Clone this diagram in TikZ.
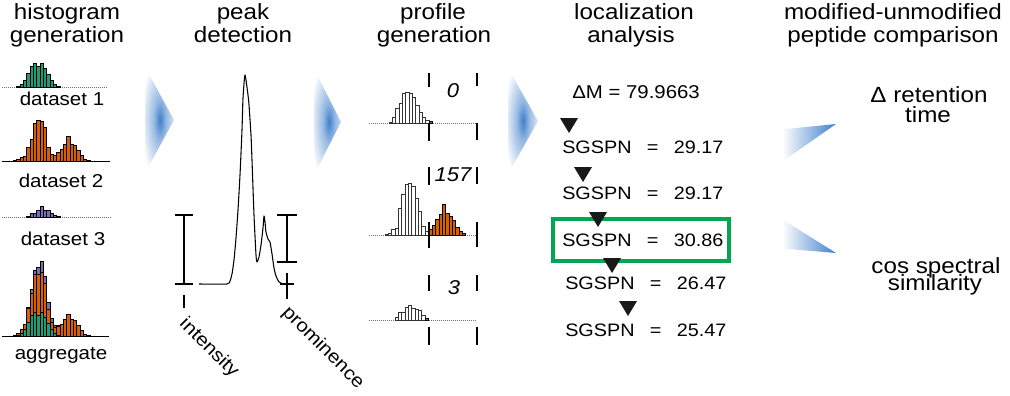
\documentclass[tikz,border=0pt]{standalone}
\usepackage{fontspec}
\setmainfont[FakeStretch=1.1]{Liberation Sans}
\definecolor{dgreen}{HTML}{1B9E77}
\definecolor{dorange}{HTML}{D95F02}
\definecolor{dpurple}{HTML}{7570B3}
\definecolor{boxgreen}{HTML}{00A650}
\definecolor{arrowblue}{HTML}{3F7FCB}
\colorlet{arrowmid}{arrowblue!55!white}
\pgfdeclareradialshading{chevshade}{\pgfpoint{0bp}{0bp}}{color(0bp)=(arrowblue); color(8bp)=(arrowmid); color(25bp)=(white); color(50bp)=(white)}
\pgfdeclarehorizontalshading{wedgeshade}{100bp}{color(0bp)=(white); color(30bp)=(white); color(75bp)=(arrowblue); color(100bp)=(arrowblue)}
\newcommand\histbars[5]{%
  \foreach \hh [count=\ii from 0] in {#5}{%
    \ifdim \hh pt>0pt
      \filldraw[bar,fill=#4] ({#1+\ii*#3},#2) rectangle ({#1+(\ii+1)*#3},{#2-\hh});
    \fi}}
\newcommand\chevron[3]{%
  \begin{scope}
    \clip (#1-3,#3-53) -- (#2,#3) -- (#1-3,#3+53) -- cycle;
    \shade[shading=chevshade] (#1+12,#3) ellipse [x radius=19, y radius=64];
  \end{scope}}
\newcommand\downtri[2]{\fill[black!90] (#1-9,#2) -- (#1+9,#2) -- (#1,#2+15) -- cycle;}
\newcommand\eqgap{\hspace{11.5pt}}
\begin{document}
\begin{tikzpicture}[x=0.75pt,y=-0.75pt,
  title/.style={font=\fontsize{16.5}{17}\selectfont, inner sep=0, anchor=base},
  lab/.style={font=\fontsize{14}{15}\selectfont, inner sep=0, anchor=base},
  rowtxt/.style={font=\fontsize{13.5}{14}\selectfont, inner sep=0, anchor=west},
  num/.style={font=\fontsize{15}{16}\selectfont\itshape, inner sep=0},
  big/.style={font=\fontsize{16.5}{17}\selectfont, inner sep=0, anchor=base},
  bar/.style={draw=black, line width=0.35pt},
  pbar/.style={draw=black!80, fill=white, line width=0.4pt},
  base/.style={draw=black!55, line width=0.5pt, densely dotted},
  sbase/.style={draw=black, line width=0.6pt},
  curve/.style={draw=black, line width=0.8pt, line join=round},
  errbar/.style={draw=black, line width=1pt},
  marker/.style={draw=black, line width=0.8pt},
  greenbox/.style={draw=boxgreen, line width=2.5pt}]
\useasboundingbox (0,0) rectangle (1010,396);
\fill[white] (0,0) rectangle (1010,396);

% titles
\node[title] (t1a) at (67,19) {histogram};
\node[title] (t1b) at (67,42) {generation};
\node[title] (t2a) at (243,19) {peak};
\node[title] (t2b) at (243,42) {detection};
\node[title] (t3a) at (433,19) {profile};
\node[title] (t3b) at (434,42) {generation};
\node[title] (t4a) at (634,19) {localization};
\node[title] (t4b) at (631,42) {analysis};
\node[title] (t5a) at (893,19) {modified-unmodified};
\node[title] (t5b) at (893,42) {peptide comparison};

% histograms
\draw[base] (2,87) -- (108,87);
\histbars{13.3}{87}{3.33}{dgreen}{0,1,3,7,14,21,24,21,24,19,13,7,3,1}
\node[lab] (d1) at (62,105) {dataset 1};
\draw[sbase] (2,161) -- (110,161);
\histbars{13.3}{161}{3.33}{dorange}{1,2,4,5,14,22,38,41,40,34,14,7,6,9,12,17,25,17,16,11,6,2,1}
\node[lab] (d2) at (61,187) {dataset 2};
\draw[base] (2,217) -- (112,217);
\histbars{13.3}{217}{3.33}{dpurple}{0,0,0,0,1,4,4,7,11,7,7,4,2,1}
\node[lab] (d3) at (63,245) {dataset 3};
\draw[sbase] (2,336) -- (109,336);
\foreach \g/\o/\p [count=\ii from 0] in {0/1/0,1/2/0,3/4/0,7/5/0,14/14/1,21/22/4,24/38/4,21/41/7,24/40/11,19/34/7,13/14/7,7/7/4,3/6/2,1/9/1,0/12/0,0/17/0,0/22/0,0/17/0,0/16/0,0/11/0,0/6/0,0/2/0,0/1/0}{
  \pgfmathsetmacro{\barxa}{13.3+\ii*3.33}
  \pgfmathsetmacro{\barxb}{\barxa+3.33}
  \ifdim \g pt>0pt \filldraw[bar,fill=dgreen] (\barxa,336) rectangle (\barxb,336-\g); \fi
  \ifdim \o pt>0pt \filldraw[bar,fill=dorange] (\barxa,336-\g) rectangle (\barxb,336-\g-\o); \fi
  \ifdim \p pt>0pt \filldraw[bar,fill=dpurple] (\barxa,336-\g-\o) rectangle (\barxb,336-\g-\o-\p); \fi
}
\node[lab] (d4) at (61,359) {aggregate};

% chevrons
\chevron{148}{174}{120}
\chevron{317}{341}{122}
\chevron{511}{538}{121}

% peak detection
\draw[curve] plot[smooth, tension=0.35] coordinates {(199,284) (227,284) (230,281) (232,274) (234,260) (236,238) (238,210) (240,175) (242,130) (243,98) (245,75) (248,95) (249,105) (251,135) (252,160) (254,215) (256,255) (257,262) (259,257) (261,245) (263,228) (264,216) (265,222) (266,232) (268,239) (270,242) (272,254) (274,268) (276,276) (279,282) (283,284)};
\draw[errbar] (175,215) -- (193,215) (184,215) -- (184,284) (175,284) -- (193,284);
\draw[errbar] (184,295) -- (184,308);
\draw[errbar] (277,215) -- (297,215) (287,215) -- (287,262) (277,262) -- (297,262);
\draw[errbar] (280,284) -- (294,284) (287,273) -- (287,299);
\node[lab, anchor=center, rotate=-45] (inten) at (209,348) {intensity};
\node[lab, anchor=center, rotate=-45] (prom) at (323,348) {prominence};

% profile generation
\draw[base] (369,123) -- (477,123);
\foreach \hh [count=\ii from 0] in {1,6,15,20,30,31,30,26,18,11,6,3}{
  \filldraw[pbar] ({389+\ii*3.33},123) rectangle ({389+(\ii+1)*3.33},123-\hh);}
\filldraw[bar, fill=dgreen] (429,123) rectangle (432.3,121.5);
\draw[base] (369,235) -- (477,235);
\foreach \hh [count=\ii from 0] in {1,2,6,7,27,41,51,52,49,37,24,9,4}{
  \filldraw[pbar] ({385+\ii*3.33},235) rectangle ({385+(\ii+1)*3.33},235-\hh);}
\histbars{429}{235}{3.33}{dorange}{6,10,16,21,31,22,19,15,8,4,2}
\draw[base] (369,320) -- (477,320);
\foreach \hh [count=\ii from 0] in {3,8,8,13,15,12,11,10,5}{
  \filldraw[pbar] ({395+\ii*3.33},320) rectangle ({395+(\ii+1)*3.33},320-\hh);}
\filldraw[bar, fill=dpurple] (425,320) rectangle (428.3,318);
\draw[marker] (429,73) -- (429,87) (429,123) -- (429,141) (477,73) -- (477,86) (477,123) -- (477,140);
\draw[marker] (429,167) -- (429,185) (429,222) -- (429,248) (477,167) -- (477,184) (477,222) -- (477,247);
\draw[marker] (429,275) -- (429,291) (429,327) -- (429,345) (477,275) -- (477,291) (477,327) -- (477,345);
\node[num] (n0) at (453,91) {0};
\node[num] (n157) at (453,175) {157};
\node[num] (n3) at (454,288) {3};

% localization analysis
\node[rowtxt, font=\fontsize{13.9}{14}\selectfont] (dm) at (572,92) {ΔM = 79.9663};
\draw[greenbox] (553,219) rectangle (729,261);
\node[rowtxt] (r1) at (562,147) {SGSPN\eqgap=\eqgap29.17};
\node[rowtxt] (r2) at (562,193) {SGSPN\eqgap=\eqgap29.17};
\node[rowtxt] (r3) at (562,240) {SGSPN\eqgap=\eqgap30.86};
\node[rowtxt] (r4) at (565,283) {SGSPN\eqgap=\eqgap26.47};
\node[rowtxt] (r5) at (565,330) {SGSPN\eqgap=\eqgap25.47};
\downtri{569}{118}
\downtri{583}{167}
\downtri{598}{212}
\downtri{612}{258}
\downtri{628}{301}

% comparison
\shade[shading=wedgeshade] (776,130) -- (836,124) -- (783,161) -- cycle;
\shade[shading=wedgeshade] (780,218) -- (836,253) -- (776,248) -- cycle;
\node[big] (rt1) at (929,102) {Δ retention};
\node[big] (rt2) at (928,122) {time};
\node[big] (cs1) at (936,273) {cos spectral};
\node[big] (cs2) at (935,290) {similarity};
\end{tikzpicture}
\end{document}
